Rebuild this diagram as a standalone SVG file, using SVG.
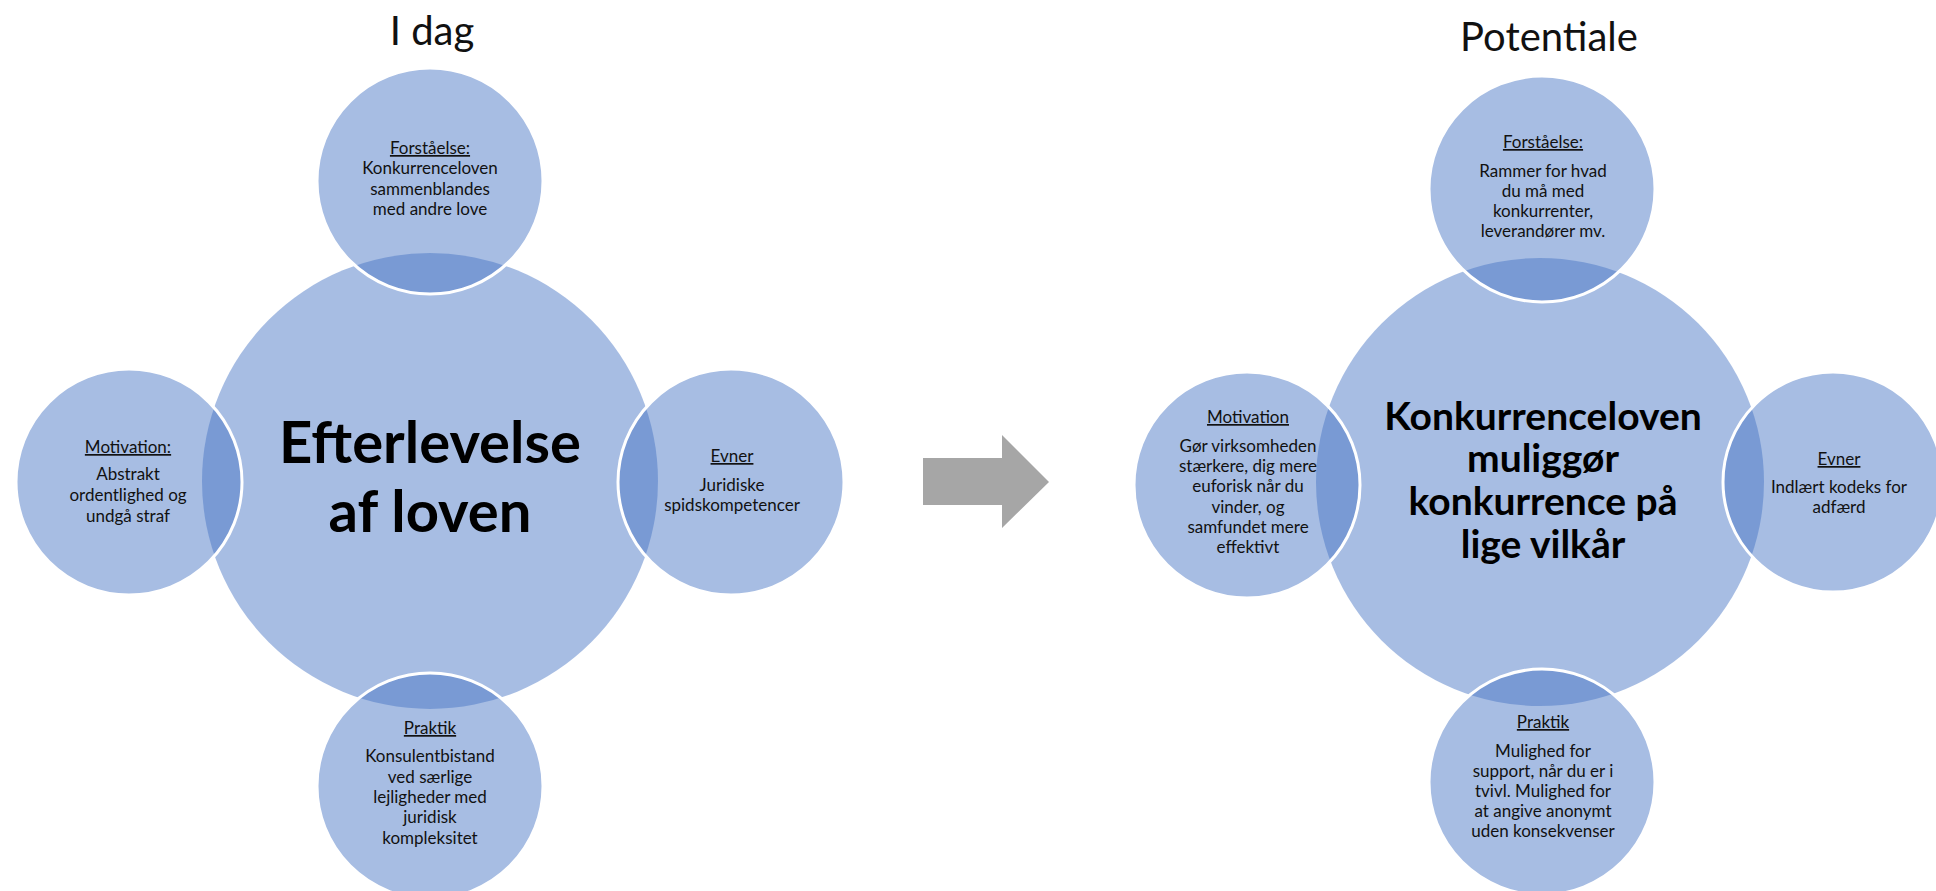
<svg xmlns="http://www.w3.org/2000/svg" width="1936" height="891" viewBox="0 0 1936 891">
<style>
.c{fill:#4776c5;fill-opacity:0.48}
.s{stroke:#ffffff;stroke-width:3}
.t{font-family:Lato,"Open Sans","Liberation Sans",sans-serif;fill:#111;text-anchor:middle}
.sm{font-size:17px}
.h{text-decoration:underline}
.big{font-weight:bold;fill:#000}
.title{font-size:40px;fill:#111}
</style>
<rect width="1936" height="891" fill="#ffffff"/>
<text class="t title" x="432" y="45">I dag</text>
<text class="t title" x="1549" y="51">Potentiale</text>

<g id="left-main"><circle class="c" cx="430" cy="481" r="228"/>
<text class="t big" font-size="58" x="430" y="463">Efterlevelse</text>
<text class="t big" font-size="58" x="430" y="532">af loven</text></g>

<g id="left-top"><circle class="c s" cx="430" cy="181" r="113"/>
<text class="t sm h" x="430" y="154">Forståelse:</text>
<text class="t sm" x="430" y="174">Konkurrenceloven</text>
<text class="t sm" x="430" y="195">sammenblandes</text>
<text class="t sm" x="430" y="215">med andre love</text></g>

<g id="left-left"><circle class="c s" cx="129" cy="482" r="113"/>
<text class="t sm h" x="128" y="453">Motivation:</text>
<text class="t sm" x="128" y="480">Abstrakt</text>
<text class="t sm" x="128" y="501">ordentlighed og</text>
<text class="t sm" x="128" y="522">undgå straf</text></g>

<g id="left-right"><circle class="c s" cx="731" cy="482" r="113"/>
<text class="t sm h" x="732" y="462">Evner</text>
<text class="t sm" x="732" y="491">Juridiske</text>
<text class="t sm" x="732" y="511">spidskompetencer</text></g>

<g id="left-bottom"><circle class="c s" cx="430" cy="786" r="113"/>
<text class="t sm h" x="430" y="734">Praktik</text>
<text class="t sm" x="430" y="762">Konsulentbistand</text>
<text class="t sm" x="430" y="783">ved særlige</text>
<text class="t sm" x="430" y="803">lejligheder med</text>
<text class="t sm" x="430" y="823">juridisk</text>
<text class="t sm" x="430" y="844">kompleksitet</text></g>

<g id="connectors">
<polygon points="923,458 1002,458 1002,435 1049,482 1002,528 1002,505 923,505" fill="#a6a6a6"/>
</g>

<g id="right-main"><circle class="c" cx="1540" cy="482" r="224"/>
<text class="t big" font-size="39" x="1543" y="430">Konkurrenceloven</text>
<text class="t big" font-size="39" x="1543" y="472">muliggør</text>
<text class="t big" font-size="39" x="1543" y="515">konkurrence på</text>
<text class="t big" font-size="39" x="1543" y="558">lige vilkår</text></g>

<g id="right-top"><circle class="c s" cx="1542" cy="189" r="113"/>
<text class="t sm h" x="1543" y="148">Forståelse:</text>
<text class="t sm" x="1543" y="177">Rammer for hvad</text>
<text class="t sm" x="1543" y="197">du må med</text>
<text class="t sm" x="1543" y="217">konkurrenter,</text>
<text class="t sm" x="1543" y="237">leverandører mv.</text></g>

<g id="right-left"><circle class="c s" cx="1247" cy="485" r="113"/>
<text class="t sm h" x="1248" y="423">Motivation</text>
<text class="t sm" x="1248" y="452">Gør virksomheden</text>
<text class="t sm" x="1248" y="472">stærkere, dig mere</text>
<text class="t sm" x="1248" y="492">euforisk når du</text>
<text class="t sm" x="1248" y="513">vinder, og</text>
<text class="t sm" x="1248" y="533">samfundet mere</text>
<text class="t sm" x="1248" y="553">effektivt</text></g>

<g id="right-right"><circle class="c s" cx="1833" cy="482" r="110"/>
<text class="t sm h" x="1839" y="465">Evner</text>
<text class="t sm" x="1839" y="493">Indlært kodeks for</text>
<text class="t sm" x="1839" y="513">adfærd</text></g>

<g id="right-bottom"><circle class="c s" cx="1542" cy="782" r="113"/>
<text class="t sm h" x="1543" y="728">Praktik</text>
<text class="t sm" x="1543" y="757">Mulighed for</text>
<text class="t sm" x="1543" y="777">support, når du er i</text>
<text class="t sm" x="1543" y="797">tvivl. Mulighed for</text>
<text class="t sm" x="1543" y="817">at angive anonymt</text>
<text class="t sm" x="1543" y="837">uden konsekvenser</text></g>
</svg>
